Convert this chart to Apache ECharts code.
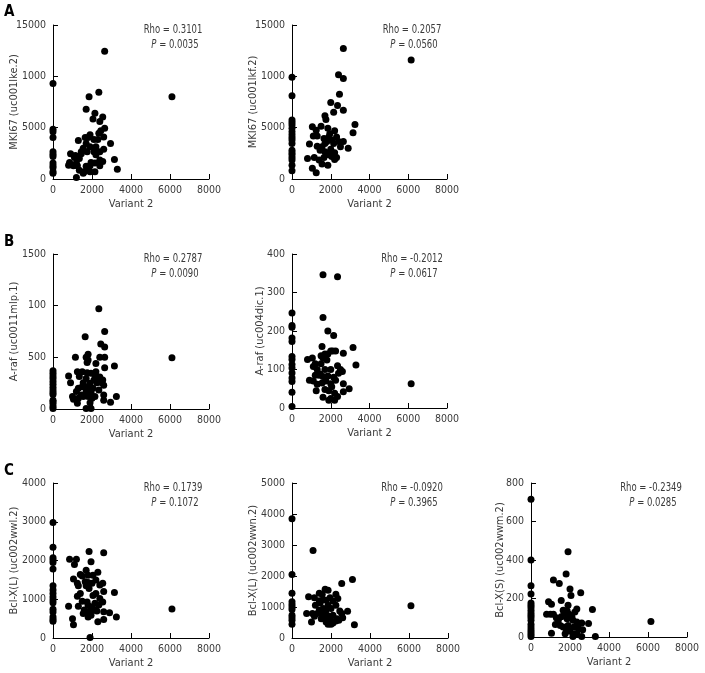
<!DOCTYPE html>
<html><head><meta charset="utf-8">
<script src="https://cdn.jsdelivr.net/npm/echarts@6/dist/echarts.min.js"></script>
<style>html,body{margin:0;padding:0;background:#fff}#c{width:705px;height:673px}</style>
</head><body><div id="c"></div>
<script>
// ---- data ----
const xTickLabels = ['0', '2000', '4000', '6000', '8000'];
const yTicksMki = ['0', '5000', '1000', '15000'];
const yTicksArafMlp = ['0', '500', '100', '1500'];
const yTicksArafDic = ['0', '100', '200', '300', '400'];
const yTicksBclLwwl = ['0', '1000', '2000', '3000', '4000'];
const yTicksBclLwwn = ['0', '1000', '2000', '3000', '4000', '5000'];
const yTicksBclSwwm = ['0', '200', '400', '600', '800'];

const mki67LkeZero = [9300, 4850, 4600, 4050, 2650, 2400, 2200, 1550, 1300, 1100, 700, 550];
const mki67Lke = [[2650,12450],[2350,8450],[1850,8000],[6100,8000],[1700,6800],[2150,6400],[2550,6050],[2050,5850],[2400,5600],[2650,4950],[2450,4700],[2350,4450],[1900,4300],[1800,4050],[1650,4050],[1300,3750],[2100,3850],[2300,3850],[2600,4100],[2950,3450],[1700,3450],[1900,3150],[2200,3150],[1550,3000],[1450,2650],[1750,2650],[2100,2650],[2400,2650],[2600,2900],[900,2450],[1150,2300],[1450,2450],[1100,2100],[1350,2000],[2200,2350],[2400,1850],[1950,1600],[2150,1550],[1900,1300],[1700,1250],[2550,1700],[3150,1900],[800,1350],[1050,1300],[1250,1300],[1200,1550],[1750,900],[1900,700],[2150,700],[1550,550],[1600,700],[1350,850],[850,1600],[1200,150],[3300,950],[2400,1300]];

const mki67LkfZero = [9900, 8100, 5750, 5500, 5250, 4950, 4600, 4300, 4050, 3800, 3450, 2800, 2550, 2350, 2100, 1850, 1350, 800];
const mki67Lkf = [[2650,12700],[6150,11600],[2400,10150],[2650,9800],[2450,8250],[2000,7450],[2350,7150],[2650,6700],[2150,6500],[1700,6150],[1750,5800],[3250,5300],[3150,4500],[1050,5100],[1500,5150],[1250,4750],[1850,4950],[2200,4700],[1950,4400],[2300,4100],[1900,4100],[1100,4200],[1300,4200],[1650,3950],[2050,3800],[2400,3650],[2650,3650],[1800,3650],[900,3400],[1300,3200],[1550,3150],[2150,3450],[2500,3150],[2900,3000],[1450,2800],[1700,2650],[2000,2900],[2200,2550],[1900,2350],[2050,2200],[2300,2100],[2200,1900],[1150,2100],[800,2000],[1650,2100],[1550,1450],[1850,1350],[1050,1050],[1250,600],[1400,1850],[2000,2450],[1700,3450]];

const arafMlpZero = [370, 345, 320, 295, 265, 240, 210, 185, 160, 140, 85, 70, 50, 25, 5];
const arafMlp = [[2350,970],[2650,750],[1650,700],[2450,630],[2650,600],[1150,500],[1700,500],[2400,500],[2650,500],[6100,495],[1800,475],[1750,450],[1800,530],[3150,415],[2650,400],[2200,440],[800,320],[900,255],[1250,360],[1500,360],[1750,350],[1950,345],[2200,360],[2150,330],[2400,310],[2300,285],[2100,280],[2500,255],[2600,230],[1900,250],[1700,295],[1350,315],[1550,255],[1800,215],[1300,200],[1500,215],[2050,200],[1700,170],[1950,160],[2350,185],[1000,120],[1050,95],[1300,105],[1550,120],[1800,120],[2150,120],[2600,135],[3250,120],[2600,85],[2950,65],[1250,55],[1700,5],[1950,5],[1900,60],[2000,105],[1200,170],[1450,135],[2250,255],[2550,280]];

const arafDicZero = [247, 214, 210, 182, 173, 134, 126, 113, 104, 91, 78, 69, 41, 4];
const arafDic = [[1600,346],[2350,341],[1600,235],[1850,200],[2150,188],[1550,160],[3150,157],[2650,142],[2100,148],[2250,148],[2000,148],[1850,140],[1700,140],[1500,136],[1600,130],[1800,125],[3300,112],[800,126],[1050,130],[1200,115],[1100,108],[1500,115],[1700,100],[2000,100],[2350,110],[2500,100],[2600,95],[2400,90],[1300,100],[1200,85],[1400,85],[1600,82],[1850,83],[2150,80],[900,72],[1100,70],[1300,62],[1550,65],[1750,70],[2000,63],[2250,72],[2650,63],[1700,48],[1900,45],[1250,45],[2200,38],[2350,30],[2650,42],[2950,50],[1600,28],[2000,25],[1900,20],[2200,20],[6150,63],[1450,88],[2050,55]];

const bclLwwlZero = [2980, 2340, 2070, 2010, 1950, 1780, 1350, 1240, 1150, 1060, 980, 910, 740, 670, 540, 480, 430];
const bclLwwl = [[1850,2230],[2600,2200],[1950,1970],[850,2030],[1200,2030],[1100,1900],[1700,1750],[2300,1700],[1400,1640],[1800,1620],[2050,1620],[1050,1520],[1650,1450],[1800,1430],[2000,1410],[2550,1410],[1250,1410],[1300,1350],[1700,1350],[2400,1365],[1850,1280],[3150,1175],[2600,1200],[2200,1150],[2050,1100],[1250,1080],[2400,1020],[2550,930],[1500,950],[1750,930],[2150,900],[2350,850],[800,820],[1300,820],[1800,840],[2000,800],[1600,720],[1900,700],[2150,720],[2250,700],[1700,650],[1950,590],[2600,680],[2900,650],[6100,750],[1550,630],[1000,500],[1050,345],[2300,420],[2600,480],[3250,545],[1900,10],[1800,545],[1400,1150],[1500,1600],[2200,1500]];

const bclLwwnZero = [3850, 2050, 1440, 1170, 1080, 1000, 920, 730, 650, 570, 445];
const bclLwwn = [[1080,2820],[3100,1890],[2550,1760],[1700,1570],[1850,1540],[1550,1415],[2250,1415],[850,1330],[1150,1300],[1950,1300],[2350,1275],[1400,1440],[1600,1240],[1750,1220],[2100,1190],[1200,1060],[1450,1135],[1850,1060],[2250,1060],[1600,950],[2000,950],[1400,900],[1750,920],[2450,875],[2850,865],[750,790],[1050,790],[1300,790],[1550,810],[1800,730],[2100,730],[2550,790],[1150,700],[1700,625],[1950,625],[2300,625],[2600,650],[1000,520],[1850,445],[2100,485],[2250,550],[2400,575],[3200,430],[6100,1040],[2000,445],[1750,520],[1500,625],[1400,1200]];

const bclSwwmZero = [716, 400, 266, 223, 177, 165, 153, 139, 125, 113, 101, 87, 66, 52, 38, 26, 14, 3];
const bclSwwm = [[1900,443],[1800,327],[1150,296],[1450,278],[2000,250],[2550,230],[2050,215],[1550,190],[900,183],[1050,170],[2350,145],[2250,130],[3150,143],[1850,136],[1700,122],[1950,118],[800,118],[1000,118],[1150,118],[1550,105],[1300,100],[1850,95],[2150,87],[2350,78],[2600,73],[2950,70],[6150,80],[1250,65],[1500,60],[1650,52],[1900,60],[2200,52],[2450,43],[2650,38],[1050,20],[1750,17],[2000,30],[2350,17],[2600,3],[3300,2],[2150,3],[1800,43],[1400,87],[2100,104],[1650,139],[1900,165],[2250,17],[2400,70]];

const rhoValues = ['0.3101', '0.2057', '0.2787', '-0.2012', '0.1739', '-0.0920', '-0.2349'];
const pValues = ['0.0035', '0.0560', '0.0090', '0.0617', '0.1072', '0.3965', '0.0285'];
const yNames = ['MKI67 (uc001lke.2)', 'MKI67 (uc001lkf.2)', 'A-raf (uc0011mlp.1)', 'A-raf (uc004dic.1)', 'Bcl-X(L) (uc002wwl.2)', 'Bcl-X(L) (uc002wwn.2)', 'Bcl-X(S) (uc002wwm.2)'];
const xName = 'Variant 2';

// ---- layout ----
const FONT = "'DejaVu Sans Condensed', 'Liberation Sans', sans-serif";
const panels = [
  { box: [53, 25, 156, 154], pts: mki67Lke, zero: mki67LkeZero, yMax: 15000, yInt: 5000, yLab: yTicksMki, gap: 33 },
  { box: [292, 25, 155, 154], pts: mki67Lkf, zero: mki67LkfZero, yMax: 15000, yInt: 5000, yLab: yTicksMki, gap: 33 },
  { box: [53, 254, 156, 155], pts: arafMlp, zero: arafMlpZero, yMax: 1500, yInt: 500, yLab: yTicksArafMlp, gap: 33 },
  { box: [292, 254, 155, 154], pts: arafDic, zero: arafDicZero, yMax: 400, yInt: 100, yLab: yTicksArafDic, gap: 26 },
  { box: [53, 483, 156, 155], pts: bclLwwl, zero: bclLwwlZero, yMax: 4000, yInt: 1000, yLab: yTicksBclLwwl, gap: 33 },
  { box: [292, 483, 156, 155], pts: bclLwwn, zero: bclLwwnZero, yMax: 5000, yInt: 1000, yLab: yTicksBclLwwn, gap: 33 },
  { box: [531, 483, 156, 154], pts: bclSwwm, zero: bclSwwmZero, yMax: 800, yInt: 200, yLab: yTicksBclSwwm, gap: 25 }
];

const grid = [], xAxis = [], yAxis = [], series = [], graphic = [];
const txtColor = '#3a3a3a';
panels.forEach((p, i) => {
  const [l, t, w, h] = p.box;
  grid.push({ left: l, top: t, width: w, height: h });
  xAxis.push({
    type: 'value', gridIndex: i, min: 0, max: 8000, interval: 2000,
    name: xName, nameLocation: 'middle', nameGap: 20, nameMoveOverlap: false,
    nameTextStyle: { fontFamily: FONT, fontSize: 11, color: txtColor },
    axisLine: { show: true, lineStyle: { color: '#000', width: 1 } },
    axisTick: { show: true, inside: true, length: 5, lineStyle: { color: '#000' } },
    axisLabel: { fontFamily: FONT, fontSize: 10.5, color: txtColor, margin: 6,
      formatter: v => xTickLabels[Math.round(v / 2000)] },
    splitLine: { show: false }
  });
  const labs = p.yLab, step = p.yInt;
  yAxis.push({
    type: 'value', gridIndex: i, min: 0, max: p.yMax, interval: p.yInt,
    name: yNames[i], nameLocation: 'middle', nameGap: p.gap, nameRotate: 90, nameMoveOverlap: false,
    nameTextStyle: { fontFamily: FONT, fontSize: 11, color: txtColor },
    axisLine: { show: true, lineStyle: { color: '#000', width: 1 } },
    axisTick: { show: true, inside: true, length: 5, lineStyle: { color: '#000' } },
    axisLabel: { fontFamily: FONT, fontSize: 10.5, color: txtColor, margin: 7,
      formatter: v => labs[Math.round(v / step)] },
    splitLine: { show: false }
  });
  const data = p.zero.map(y => [0, y]).concat(p.pts);
  series.push({
    type: 'scatter', xAxisIndex: i, yAxisIndex: i, data: data,
    symbol: 'circle', symbolSize: 7, itemStyle: { color: '#000', opacity: 1 },
    silent: true, animation: false
  });
  const cx = l + 120;
  graphic.push({ type: 'text', x: cx, y: t + 5, scaleX: 0.82,
    style: { text: 'Rho = ' + rhoValues[i], fill: txtColor, font: '11.5px ' + FONT, textAlign: 'center', textVerticalAlign: 'middle' } });
  graphic.push({ type: 'text', x: cx + 2, y: t + 20, scaleX: 0.82,
    style: { text: '{i|P} = ' + pValues[i], fill: txtColor, font: '11.5px ' + FONT, textAlign: 'center', textVerticalAlign: 'middle',
      rich: { i: { fontStyle: 'italic', fontFamily: FONT, fontSize: 11.5, fill: txtColor } } } });
});
[['A', 12], ['B', 242], ['C', 471]].forEach(([s, y]) => {
  graphic.push({ type: 'text', x: 4, y: y,
    style: { text: s, fill: '#000', font: 'bold 15px ' + FONT, textAlign: 'left', textVerticalAlign: 'middle' } });
});

const chart = echarts.init(document.getElementById('c'), null, { renderer: 'canvas' });
chart.setOption({ animation: false, backgroundColor: '#fff', grid, xAxis, yAxis, series, graphic });
</script></body></html>
